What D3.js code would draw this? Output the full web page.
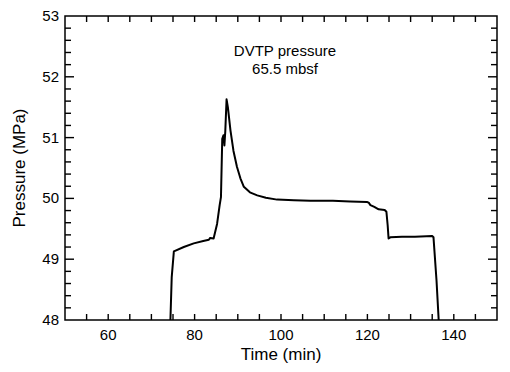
<!DOCTYPE html>
<html>
<head>
<meta charset="utf-8">
<script src="https://d3js.org/d3.v7.min.js"></script>
<style>
  body { margin: 0; background: #fff; }
  text { font-family: "Liberation Sans", Arial, sans-serif; fill: #000; }
</style>
</head>
<body>
<div id="chart"></div>
<script>
// data
const time = [74.4, 74.7, 75.2, 77.5, 79.8, 82.0, 83.3, 83.6, 84.4, 85.2, 85.8, 86.1, 86.4, 86.7, 86.9, 87.1, 87.4, 87.7, 88.3, 89.0, 89.8, 90.6, 91.4, 92.8, 94.5, 96.5, 99.1, 103, 106.8, 112, 116, 119.9, 120.3, 120.7, 121.6, 122.6, 124.0, 124.4, 124.7, 124.9, 125.3, 128, 131, 135.0, 135.3, 136.0, 136.5];
const pressure = [48.0, 48.7, 49.13, 49.2, 49.26, 49.3, 49.32, 49.35, 49.34, 49.58, 49.89, 50.02, 50.98, 51.04, 50.87, 51.1, 51.63, 51.5, 51.12, 50.78, 50.52, 50.33, 50.19, 50.1, 50.05, 50.01, 49.98, 49.97, 49.96, 49.96, 49.95, 49.94, 49.93, 49.89, 49.86, 49.82, 49.81, 49.78, 49.55, 49.34, 49.36, 49.37, 49.37, 49.38, 49.36, 48.65, 48.0];
const xTicks = [60, 80, 100, 120, 140];
const yTicks = [48, 49, 50, 51, 52, 53];

const width = 510, height = 372;
const plotL = 65, plotR = 497, plotT = 16, plotB = 320;

const svg = d3.select("#chart").append("svg")
  .attr("width", width).attr("height", height);

const x = d3.scaleLinear().domain([50, 150]).range([plotL, plotR]);
const y = d3.scaleLinear().domain([48, 53]).range([plotB, plotT]);

const xMinor = d3.range(55, 150, 5);
const yMinor = d3.range(1, 25).map(i => 48 + i * 0.2);
const isMajorY = d => Math.abs(d - Math.round(d)) < 1e-6;

// inward ticks as small filled rects
svg.selectAll("rect.xb").data(xMinor).join("rect").attr("class", "xb")
  .attr("x", d => x(d) - 0.7).attr("y", plotB - 6).attr("width", 1.4).attr("height", 6).attr("fill", "#000");
svg.selectAll("rect.xt").data(xMinor).join("rect").attr("class", "xt")
  .attr("x", d => x(d) - 0.7).attr("y", plotT).attr("width", 1.4).attr("height", 6).attr("fill", "#000");
svg.selectAll("rect.yl").data(yMinor).join("rect").attr("class", "yl")
  .attr("x", plotL).attr("y", d => y(d) - 0.7).attr("height", 1.4)
  .attr("width", d => isMajorY(d) ? 9 : 6).attr("fill", "#000");
svg.selectAll("rect.yr").data(yMinor).join("rect").attr("class", "yr")
  .attr("x", d => plotR - (isMajorY(d) ? 9 : 6)).attr("y", d => y(d) - 0.7).attr("height", 1.4)
  .attr("width", d => isMajorY(d) ? 9 : 6).attr("fill", "#000");

// frame
svg.append("rect").attr("x", plotL).attr("y", plotT)
  .attr("width", plotR - plotL).attr("height", plotB - plotT)
  .attr("fill", "none").attr("stroke", "#000").attr("stroke-width", 1.5);

// tick labels
svg.selectAll("text.xl").data(xTicks).join("text").attr("class", "xl")
  .attr("x", d => x(d)).attr("y", plotB + 20).attr("text-anchor", "middle")
  .attr("font-size", 15).text(d => d3.format("d")(d));
svg.selectAll("text.yl").data(yTicks).join("text").attr("class", "yl")
  .attr("x", plotL - 6).attr("y", d => y(d) + 5).attr("text-anchor", "end")
  .attr("font-size", 15).text(d => d3.format("d")(d));

// trace
const line = d3.line().x((d, i) => x(time[i])).y(d => y(d));
svg.append("path").datum(pressure)
  .attr("d", line)
  .attr("fill", "none").attr("stroke", "#000").attr("stroke-width", 2)
  .attr("stroke-linejoin", "round");

// title
svg.append("text").attr("x", 285).attr("y", 56).attr("text-anchor", "middle")
  .attr("font-size", 15).text("DVTP pressure");
svg.append("text").attr("x", 285).attr("y", 74).attr("text-anchor", "middle")
  .attr("font-size", 15).text("65.5 mbsf");

// axis labels
svg.append("text").attr("x", (plotL + plotR) / 2).attr("y", 360)
  .attr("text-anchor", "middle").attr("font-size", 17).text("Time (min)");
svg.append("text").attr("transform", `translate(25,${(plotT + plotB) / 2}) rotate(-90)`)
  .attr("text-anchor", "middle").attr("font-size", 17).text("Pressure (MPa)");
</script>
</body>
</html>
